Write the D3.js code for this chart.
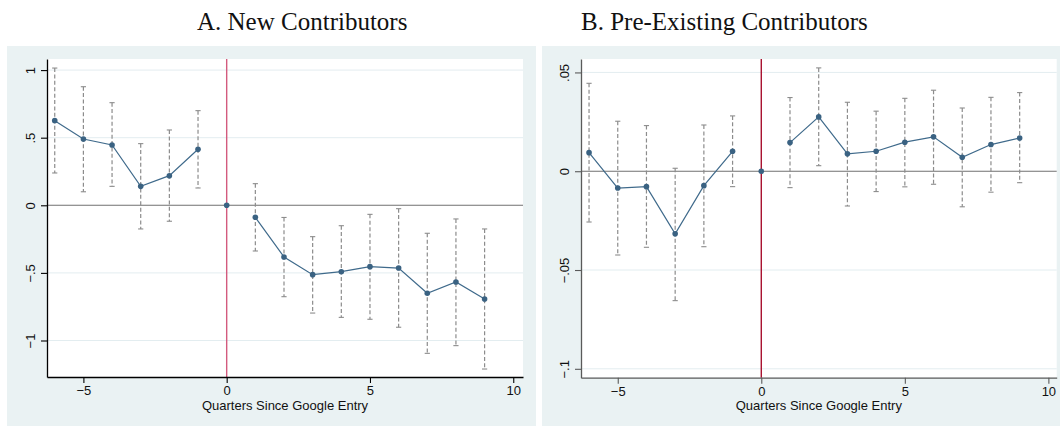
<!DOCTYPE html>
<html>

<head>
    <meta http-equiv="Content-Type" content="text/html; charset=UTF-8">
    <style>
        body { margin: 0; background: #fff; }
        svg { display: block; }
        text { font-family: "Liberation Sans", Arial, sans-serif; }
        .title { font-family: "Liberation Serif", "Times New Roman", serif; font-size: 25px; fill: #111; }
    </style>
</head>

<body>
    <svg></svg>
    <script src="https://cdnjs.cloudflare.com/ajax/libs/d3/7.8.5/d3.min.js"></script>

    <script>

        let width = 1060, height = 426;

        // quarters relative to entry
        let quarters = [-6, -5, -4, -3, -2, -1, 0, 1, 2, 3, 4, 5, 6, 7, 8, 9];

        // panel A: new contributors
        let estA = [0.626, 0.49, 0.446, 0.14, 0.219, 0.414, 0, -0.089, -0.382, -0.513, -0.491, -0.454, -0.464, -0.651, -0.567, -0.693];
        let hiA = [1.015, 0.877, 0.759, 0.456, 0.557, 0.70, null, 0.16, -0.09, -0.232, -0.151, -0.067, -0.025, -0.207, -0.101, -0.175];
        let loA = [0.239, 0.10, 0.14, -0.175, -0.118, 0.128, null, -0.338, -0.676, -0.797, -0.829, -0.843, -0.902, -1.095, -1.038, -1.211];

        // panel B: pre-existing contributors
        let estB = [0.0094, -0.0085, -0.0078, -0.0317, -0.0073, 0.0101, 0, 0.0145, 0.0275, 0.0088, 0.0101, 0.0147, 0.0174, 0.0071, 0.0135, 0.0168];
        let hiB = [0.0445, 0.0253, 0.0231, 0.0015, 0.0234, 0.028, null, 0.0373, 0.0523, 0.0349, 0.0304, 0.0369, 0.041, 0.032, 0.0374, 0.0398];
        let loB = [-0.0257, -0.0424, -0.0385, -0.0655, -0.0382, -0.0078, null, -0.0083, 0.0028, -0.0176, -0.0103, -0.0079, -0.0066, -0.018, -0.0106, -0.0058];

        let xTicks = [-5, 0, 5, 10];
        let xTickLabels = ["\u22125", "0", "5", "10"];
        let yTicksA = [-1, -0.5, 0, 0.5, 1];
        let yTickLabelsA = ["\u22121", "\u2212.5", "0", ".5", "1"];
        let yTicksB = [-0.1, -0.05, 0, 0.05];
        let yTickLabelsB = ["\u2212.1", "\u2212.05", "0", ".05"];

        let titles = ["A. New Contributors", "B. Pre-Existing Contributors"];
        let xTitle = "Quarters Since Google Entry";

        let svg = d3.select("svg")
            .attr("width", width)
            .attr("height", height)
            .attr("viewBox", "0 0 " + width + " " + height);

        let panels = [
            {
                bg: [7, 46, 529, 380], left: 47, right: 523, top: 59, bottom: 377,
                xDom: [-6.27, 10.34], yDom: [-1.27, 1.082],
                est: estA, hi: hiA, lo: loA, yTicks: yTicksA, yLabels: yTickLabelsA,
                title: titles[0], titleX: 197, axisColor: "#000", vColor: "#d35b7e"
            },
            {
                bg: [542, 46, 540, 380], left: 581, right: 1056.7, top: 59, bottom: 377.7,
                xDom: [-6.28, 10.29], yDom: [-0.1045, 0.0568],
                est: estB, hi: hiB, lo: loB, yTicks: yTicksB, yLabels: yTickLabelsB,
                title: titles[1], titleX: 581, axisColor: "#5a5a5a", vColor: "#a8112f"
            }
        ];

        panels.forEach(p => {
            let g = svg.append("g");

            // graph region + plot region
            g.append("rect")
                .attr("x", p.bg[0]).attr("y", p.bg[1])
                .attr("width", p.bg[2]).attr("height", p.bg[3])
                .attr("fill", "#eaf2f3");
            g.append("rect")
                .attr("x", p.left).attr("y", p.top)
                .attr("width", p.right - p.left).attr("height", p.bottom - p.top)
                .attr("fill", "#fff");

            g.append("text")
                .attr("class", "title")
                .attr("x", p.titleX)
                .attr("y", 29.5)
                .text(p.title);

            let x = d3.scaleLinear().domain(p.xDom).range([p.left, p.right]);
            let y = d3.scaleLinear().domain(p.yDom).range([p.bottom, p.top]);

            // grid
            g.append("g")
                .selectAll("line")
                .data(p.yTicks.filter(t => t !== 0))
                .enter()
                .append("line")
                .attr("x1", p.left).attr("x2", p.right)
                .attr("y1", d => y(d)).attr("y2", d => y(d))
                .attr("stroke", "#e3edf0")
                .attr("stroke-width", 1);

            // reference lines
            g.append("line")
                .attr("x1", x(0)).attr("x2", x(0))
                .attr("y1", p.top).attr("y2", p.bottom)
                .attr("stroke", p.vColor)
                .attr("stroke-width", 1.4);
            g.append("line")
                .attr("x1", p.left).attr("x2", p.right)
                .attr("y1", y(0)).attr("y2", y(0))
                .attr("stroke", "#707070")
                .attr("stroke-width", 1.1);

            let rows = quarters.map((q, i) => ({ q: q, est: p.est[i], hi: p.hi[i], lo: p.lo[i] }));
            let withCI = rows.filter(d => d.hi !== null);

            // confidence intervals
            let ci = g.append("g");
            ci.selectAll("line.ci")
                .data(withCI)
                .enter()
                .append("line")
                .attr("x1", d => x(d.q)).attr("x2", d => x(d.q))
                .attr("y1", d => y(d.hi)).attr("y2", d => y(d.lo))
                .attr("stroke", "#8c8c8c")
                .attr("stroke-width", 1.2)
                .attr("stroke-dasharray", "4,2.4");
            ["hi", "lo"].forEach(k => {
                ci.selectAll("line.cap-" + k)
                    .data(withCI)
                    .enter()
                    .append("line")
                    .attr("x1", d => x(d.q) - 2.6).attr("x2", d => x(d.q) + 2.6)
                    .attr("y1", d => y(d[k])).attr("y2", d => y(d[k]))
                    .attr("stroke", "#8c8c8c")
                    .attr("stroke-width", 1.1);
            });

            // connected estimates: pre and post separately
            let line = d3.line().x(d => x(d.q)).y(d => y(d.est));
            [rows.filter(d => d.q < 0), rows.filter(d => d.q > 0)].forEach(seg => {
                g.append("path")
                    .datum(seg)
                    .attr("d", line)
                    .attr("fill", "none")
                    .attr("stroke", "#3f6a8b")
                    .attr("stroke-width", 1.2);
            });

            g.append("g")
                .selectAll("circle")
                .data(rows)
                .enter()
                .append("circle")
                .attr("cx", d => x(d.q))
                .attr("cy", d => y(d.est))
                .attr("r", 2.8)
                .attr("fill", "#3a6282");

            // axes
            let yAxis = d3.axisLeft(y)
                .tickValues(p.yTicks)
                .tickFormat((d, i) => p.yLabels[i])
                .tickSize(6)
                .tickSizeOuter(0);
            let ya = g.append("g")
                .attr("transform", "translate(" + p.left + ",0)")
                .call(yAxis);
            ya.selectAll("text")
                .attr("x", null).attr("dy", null)
                .attr("transform", "translate(-12,0) rotate(-90)")
                .attr("text-anchor", "middle")
                .style("font-size", "13px")
                .attr("fill", "#111");

            let xAxis = d3.axisBottom(x)
                .tickValues(xTicks)
                .tickFormat((d, i) => xTickLabels[i])
                .tickSize(6)
                .tickSizeOuter(0);
            let xa = g.append("g")
                .attr("transform", "translate(0," + p.bottom + ")")
                .call(xAxis);
            xa.selectAll("text")
                .style("font-size", "13px")
                .attr("fill", "#111");

            [ya, xa].forEach(a => {
                a.select(".domain").attr("stroke", p.axisColor).attr("stroke-width", 1.3);
                a.selectAll(".tick line").attr("stroke", p.axisColor).attr("stroke-width", 1.1);
            });

            g.append("text")
                .attr("x", (p.left + p.right) / 2)
                .attr("y", 410)
                .attr("text-anchor", "middle")
                .style("font-size", "13px")
                .attr("fill", "#111")
                .text(xTitle);
        });
    </script>

</body>

</html>
